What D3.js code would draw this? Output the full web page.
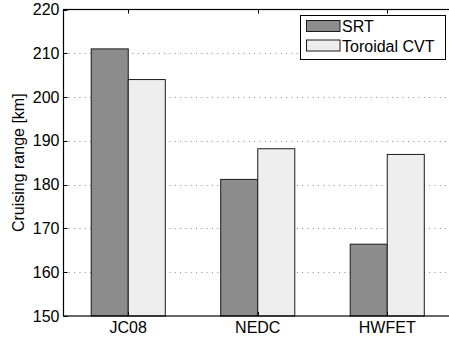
<!DOCTYPE html>
<html>
<head>
<meta charset="utf-8">
<script src="https://cdn.jsdelivr.net/npm/d3@7"></script>
<style>
  html, body { margin: 0; padding: 0; background: #fff; }
  svg { display: block; }
  text { font-family: "Liberation Sans", Arial, Helvetica, sans-serif; fill: #000; }
</style>
</head>
<body>
<svg id="chart" width="449" height="342"></svg>
<script>
// Cruising range per drive cycle, SRT vs toroidal CVT
const categories = ["JC08", "NEDC", "HWFET"];
const seriesNames = ["SRT", "Toroidal CVT"];
const srtRange = [211, 181.2, 166.4];
const cvtRange = [204, 188.2, 186.9];
const yTicks = [150, 160, 170, 180, 190, 200, 210, 220];
const seriesColors = ["#8c8c8c", "#eeeeee"];

const svg = d3.select("#chart");
const W = 449, H = 342;
const plot = { left: 63.5, top: 9.5, right: 452, bottom: 316 };

// Category positions 1..n on a continuous axis, like a grouped bar plot
const x = d3.scaleLinear().domain([0.5, categories.length + 0.5]).range([plot.left, plot.right]);
const y = d3.scaleLinear().domain([150, 220]).range([plot.bottom, plot.top]);

const barW = 0.286; // width of one bar in category units
const series = [srtRange, cvtRange];

// Dotted horizontal grid
svg.append("g")
  .selectAll("line")
  .data(yTicks.filter(t => t > 150 && t < 220))
  .join("line")
  .attr("x1", plot.left).attr("x2", plot.right)
  .attr("y1", d => Math.round(y(d)) + 0.5).attr("y2", d => Math.round(y(d)) + 0.5)
  .attr("stroke", "#8a8a8a")
  .attr("stroke-width", 1)
  .attr("stroke-dasharray", "1,4.3");

// Bars
const bars = svg.append("g");
series.forEach((vals, si) => {
  bars.selectAll(null)
    .data(vals)
    .join("rect")
    .attr("x", (d, i) => x(i + 1 + (si - 1) * barW))
    .attr("width", x(barW) - x(0))
    .attr("y", d => y(d))
    .attr("height", d => y(150) - y(d))
    .attr("fill", seriesColors[si])
    .attr("stroke", "#1a1a1a")
    .attr("stroke-width", 1);
});

// Axes box
svg.append("rect")
  .attr("x", plot.left).attr("y", plot.top)
  .attr("width", plot.right - plot.left).attr("height", plot.bottom - plot.top)
  .attr("fill", "none").attr("stroke", "#000").attr("stroke-width", 1.2);

// Inward tick marks on top and bottom edges
const tickLen = 4;
const xt = svg.append("g").attr("stroke", "#000").attr("stroke-width", 1);
categories.forEach((c, i) => {
  const px = Math.round(x(i + 1)) + 0.5;
  xt.append("line").attr("x1", px).attr("x2", px).attr("y1", plot.top).attr("y2", plot.top + tickLen);
  xt.append("line").attr("x1", px).attr("x2", px).attr("y1", plot.bottom).attr("y2", plot.bottom - tickLen);
});
yTicks.forEach(t => {
  const py = Math.round(y(t)) + 0.5;
  xt.append("line").attr("x1", plot.left).attr("x2", plot.left + tickLen).attr("y1", py).attr("y2", py);
});

// Y tick labels
svg.append("g")
  .selectAll("text")
  .data(yTicks)
  .join("text")
  .attr("x", 59.5)
  .attr("y", d => y(d) + 5.6)
  .attr("text-anchor", "end")
  .attr("font-size", 16)
  .text(d => d);

// X tick labels
svg.append("g")
  .selectAll("text")
  .data(categories)
  .join("text")
  .attr("x", (d, i) => x(i + 1))
  .attr("y", 333.3)
  .attr("text-anchor", "middle")
  .attr("font-size", 16)
  .text(d => d);

// Y axis title
svg.append("text")
  .attr("transform", `translate(24,${(plot.top + plot.bottom) / 2}) rotate(-90)`)
  .attr("text-anchor", "middle")
  .attr("font-size", 16)
  .text("Cruising range [km]");

// Legend
const lg = svg.append("g");
lg.append("rect")
  .attr("x", 300.5).attr("y", 15.5).attr("width", 145).attr("height", 44)
  .attr("fill", "#fff").attr("stroke", "#000").attr("stroke-width", 1);
seriesNames.forEach((name, i) => {
  const top = 20.5 + i * 19.5;
  lg.append("rect")
    .attr("x", 306.5).attr("y", top).attr("width", 33.5).attr("height", 11)
    .attr("fill", seriesColors[i]).attr("stroke", "#1a1a1a").attr("stroke-width", 1);
  lg.append("text")
    .attr("x", 342).attr("y", top + 11.5)
    .attr("font-size", 16)
    .text(name);
});
</script>
</body>
</html>
